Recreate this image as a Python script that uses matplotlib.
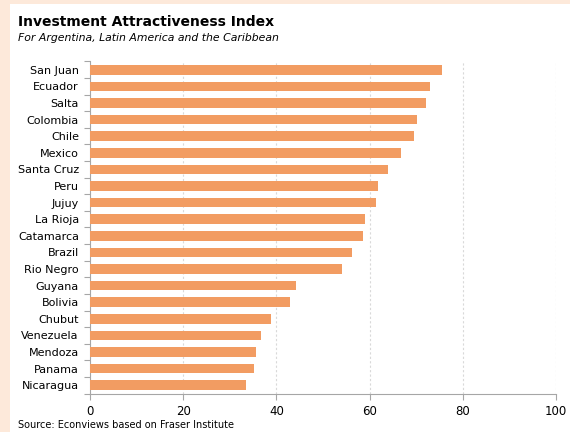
import matplotlib
matplotlib.use("Agg")
import matplotlib.pyplot as plt
from matplotlib.patches import Rectangle

# ____________________ Data ____________________
places = ["San Juan", "Ecuador", "Salta", "Colombia", "Chile", "Mexico",
          "Santa Cruz", "Peru", "Jujuy", "La Rioja", "Catamarca", "Brazil",
          "Rio Negro", "Guyana", "Bolivia", "Chubut", "Venezuela", "Mendoza",
          "Panama", "Nicaragua"]
scores = [75.6, 73.0, 72.2, 70.2, 69.5, 66.7, 64.0, 61.8, 61.3, 59.1,
          58.5, 56.3, 54.1, 44.3, 43.0, 38.8, 36.7, 35.6, 35.2, 33.5]
xticks = [0, 20, 40, 60, 80, 100]

title = "Investment Attractiveness Index"
subtitle = "For Argentina, Latin America and the Caribbean"
source = "Source: Econviews based on Fraser Institute"

bar_color = "#F29C62"
peach = "#FDE9DA"
axis_grey = "#A6A6A6"

plt.rcParams['font.family'] = ['DejaVu Sans']

fig = plt.figure(figsize=(5.7, 4.32), dpi=100)
fig.patch.set_facecolor("white")

# peach strips along top and left edge
fig.patches.append(Rectangle((0, 1 - 4/432), 1, 4/432, transform=fig.transFigure,
                             facecolor=peach, edgecolor="none", zorder=0))
fig.patches.append(Rectangle((0, 0), 10/570, 1, transform=fig.transFigure,
                             facecolor=peach, edgecolor="none", zorder=0))

ax = fig.add_axes([90/570, 1 - 393.5/432, (556 - 90)/570, (393.5 - 61.5)/432])

ypos = list(range(len(places)))
ax.barh(ypos, scores, height=0.58, color=bar_color, edgecolor="none", zorder=3)

ax.set_xlim(0, 100)
ax.set_ylim(len(places) - 0.5, -0.5)
ax.set_xticks(xticks)
ax.set_xticklabels([str(t) for t in xticks], fontsize=8.5)
ax.set_yticks(ypos)
ax.set_yticklabels(places, fontsize=8)

# category boundary ticks on the left axis
ax.set_yticks([i - 0.5 for i in range(len(places) + 1)], minor=True)
ax.tick_params(axis="y", which="major", length=0, pad=8)
ax.tick_params(axis="y", which="minor", length=4, color=axis_grey, width=0.8)
ax.tick_params(axis="x", length=4, color=axis_grey, width=0.8, pad=4)

for s in ["top", "right"]:
    ax.spines[s].set_visible(False)
for s in ["left", "bottom"]:
    ax.spines[s].set_color(axis_grey)
    ax.spines[s].set_linewidth(0.8)

ax.xaxis.grid(True, color="#D9D9D9", linestyle=(0, (2, 2)), linewidth=0.8, zorder=0)
ax.set_axisbelow(True)

fig.text(18/570, 1 - 22/432, title, fontsize=10, fontweight="bold", va="center")
fig.text(18/570, 1 - 38/432, subtitle, fontsize=7.85, style="italic", va="center")
fig.text(18/570, 1 - 425/432, source, fontsize=7, va="center")

fig.savefig("out.png", dpi=100)
